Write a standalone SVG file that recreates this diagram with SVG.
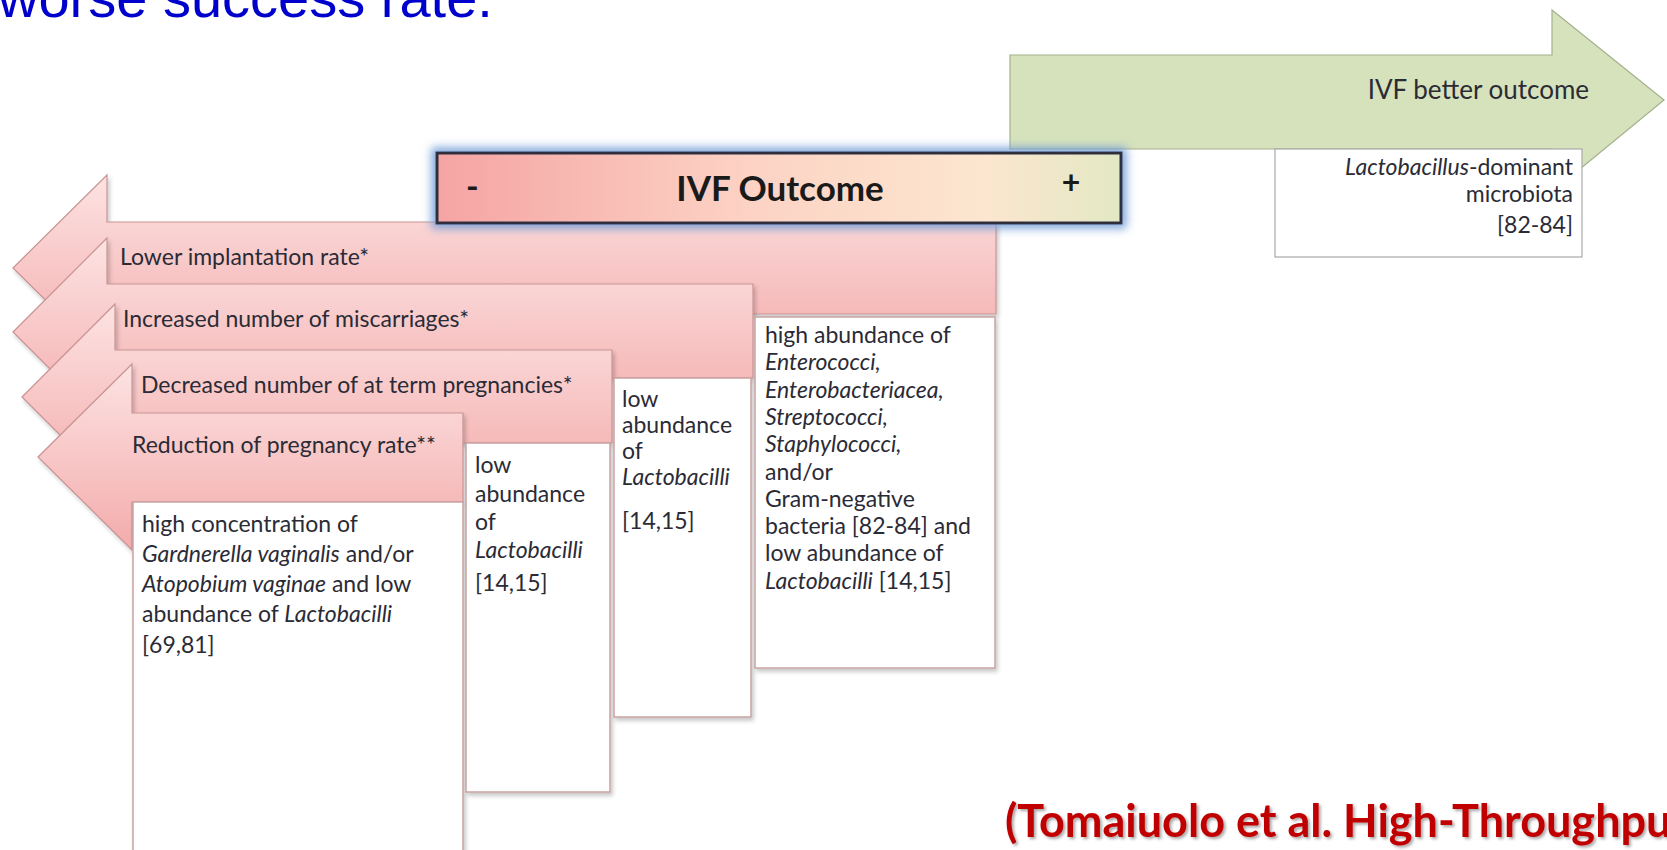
<svg xmlns="http://www.w3.org/2000/svg" width="1667" height="850" viewBox="0 0 1667 850">
<defs>
  <linearGradient id="pinkGrad" x1="0" y1="0" x2="0" y2="1">
    <stop offset="0" stop-color="#fde3e3"/>
    <stop offset="1" stop-color="#f3abab"/>
  </linearGradient>
  <linearGradient id="outcomeGrad" x1="0" y1="0" x2="1" y2="0">
    <stop offset="0" stop-color="#f5a4a4"/>
    <stop offset="0.45" stop-color="#fcd2c4"/>
    <stop offset="0.8" stop-color="#fce6cf"/>
    <stop offset="1" stop-color="#e2e8c4"/>
  </linearGradient>
  <filter id="shadow" x="-5%" y="-5%" width="115%" height="120%">
    <feDropShadow dx="2" dy="3" stdDeviation="2" flood-color="#000" flood-opacity="0.22"/>
  </filter>
  <filter id="glow" x="-10%" y="-50%" width="120%" height="200%">
    <feMorphology in="SourceAlpha" operator="dilate" radius="4" result="d"/>
    <feGaussianBlur in="d" stdDeviation="5" result="b"/>
    <feFlood flood-color="#6f9bd6" flood-opacity="0.9"/>
    <feComposite in2="b" operator="in" result="g"/>
    <feMerge><feMergeNode in="g"/><feMergeNode in="SourceGraphic"/></feMerge>
  </filter>
  <filter id="textShadow" x="-5%" y="-20%" width="110%" height="150%">
    <feDropShadow dx="2" dy="2" stdDeviation="1.5" flood-color="#000" flood-opacity="0.35"/>
  </filter>
</defs>
<style>
  .t { font-family: Lato, "Open Sans", sans-serif; font-size: 23px; fill: #2b2b36; }
  .i { font-style: italic; }
  .big { font-family: Lato, "Open Sans", sans-serif; font-weight: bold; fill: #1a1a1a; }
  .pink { fill: url(#pinkGrad); stroke: #c99393; stroke-width: 1.2; filter: url(#shadow); }
  .box { fill: #ffffff; stroke: #c9a3a3; stroke-width: 1.5; filter: url(#shadow); }
  .gbox { fill: #ffffff; stroke: #a8a8a8; stroke-width: 1.2; }
  .green { fill: #d6e2bb; stroke: #a3b08c; stroke-width: 1.2; }
  .end { text-anchor: end; }
</style>

<text x="-2" y="17" font-family="Liberation Sans, Arial, sans-serif" font-size="56" fill="#0000cc">worse success rate.</text>

<g id="better-arrow">
  <polygon class="green" points="1010,55 1552,55 1552,10 1664,100 1552,192 1552,149 1010,149"/>
  <text class="t end" x="1589" y="99" style="font-size:26px">IVF better outcome</text>
</g>

<g id="lacto-box">
  <rect class="gbox" x="1275" y="149" width="307" height="108"/>
  <text class="t end" x="1573" y="175"><tspan class="i">Lactobacillus</tspan>-dominant</text>
  <text class="t end" x="1573" y="202">microbiota</text>
  <text class="t end" x="1573" y="233">[82-84]</text>
</g>

<g id="arrow-implantation">
  <polygon class="pink" points="13,268 107,175 107,222 996,222 996,314 107,314 107,361"/>
  <text class="t" x="120" y="265">Lower implantation rate*</text>
</g>

<g id="arrow-miscarriages">
  <polygon class="pink" points="13,332 107,238 107,284 753,284 753,378 107,378 107,426"/>
  <text class="t" x="123" y="327">Increased number of miscarriages*</text>
</g>

<g id="arrow-term">
  <polygon class="pink" points="22,397 115,304 115,350 612,350 612,443 115,443 115,490"/>
  <text class="t" x="141" y="393">Decreased number of at term pregnancies*</text>
</g>

<g id="arrow-pregnancy">
  <polygon class="pink" points="38,457 132,364 132,413 463,413 463,502 132,502 132,550"/>
  <text class="t" x="132" y="453">Reduction of pregnancy rate**</text>
</g>

<g id="box-gardnerella">
  <rect class="box" x="133" y="502" width="330" height="360"/>
  <text class="t" x="142" y="532">high concentration of</text>
  <text class="t" x="142" y="562"><tspan class="i">Gardnerella vaginalis</tspan> and/or</text>
  <text class="t" x="142" y="592"><tspan class="i">Atopobium vaginae</tspan> and low</text>
  <text class="t" x="142" y="622">abundance of <tspan class="i">Lactobacilli</tspan></text>
  <text class="t" x="142" y="653">[69,81]</text>
</g>

<g id="box-low-1">
  <rect class="box" x="466" y="443" width="144" height="349"/>
  <text class="t" x="475" y="473">low</text>
  <text class="t" x="475" y="502">abundance</text>
  <text class="t" x="475" y="530">of</text>
  <text class="t i" x="475" y="558">Lactobacilli</text>
  <text class="t" x="475" y="591">[14,15]</text>
</g>

<g id="box-low-2">
  <rect class="box" x="614" y="378" width="137" height="339"/>
  <text class="t" x="622" y="407">low</text>
  <text class="t" x="622" y="433">abundance</text>
  <text class="t" x="622" y="459">of</text>
  <text class="t i" x="622" y="485">Lactobacilli</text>
  <text class="t" x="622" y="529">[14,15]</text>
</g>

<g id="box-high">
  <rect class="box" x="755" y="317" width="240" height="351"/>
  <text class="t" x="765" y="343">high abundance of</text>
  <text class="t i" x="765" y="370">Enterococci,</text>
  <text class="t i" x="765" y="398">Enterobacteriacea,</text>
  <text class="t i" x="765" y="425">Streptococci,</text>
  <text class="t i" x="765" y="452">Staphylococci,</text>
  <text class="t" x="765" y="480">and/or</text>
  <text class="t" x="765" y="507">Gram-negative</text>
  <text class="t" x="765" y="534">bacteria [82-84] and</text>
  <text class="t" x="765" y="561">low abundance of</text>
  <text class="t" x="765" y="589"><tspan class="i">Lactobacilli</tspan> [14,15]</text>
</g>

<g id="ivf-outcome">
  <rect x="437" y="153" width="684" height="70" fill="url(#outcomeGrad)" stroke="#2e2e3e" stroke-width="3" filter="url(#glow)"/>
  <text class="big" x="466" y="199" style="font-size:34px">-</text>
  <text class="big" x="780" y="201" style="font-size:35px" text-anchor="middle">IVF Outcome</text>
  <text class="big" x="1071" y="194" style="font-size:32px" text-anchor="middle">+</text>
</g>

<g id="connectors"/>

<text x="1005" y="837" font-family="Lato, 'Open Sans', sans-serif" font-size="45" font-weight="bold" fill="#c00000" filter="url(#textShadow)">(Tomaiuolo et al. High-Throughpu</text>
</svg>
